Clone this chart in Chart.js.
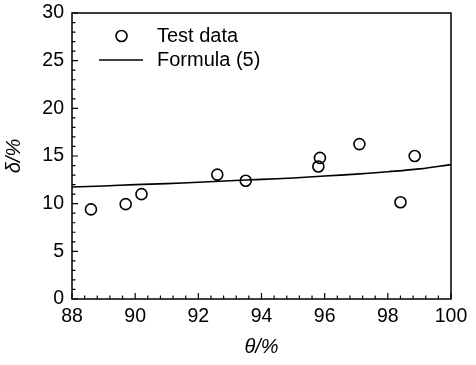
<!DOCTYPE html>
<html>
<head>
<meta charset="utf-8">
<script src="https://cdn.jsdelivr.net/npm/chart.js@4/dist/chart.umd.min.js"></script>
<style>
  html, body { margin: 0; padding: 0; background: #fff; }
  #wrap { width: 476px; height: 365px; }
</style>
</head>
<body>
<div id="wrap"><canvas id="myChart" width="476" height="365"></canvas></div>
<script>
// data
const testTheta = [88.6, 89.7, 90.2, 92.6, 93.5, 95.8, 95.85, 97.1, 98.4, 98.85];
const testDelta = [9.4, 9.95, 11.0, 13.05, 12.4, 13.9, 14.8, 16.25, 10.15, 15.0];

const formulaTheta = [88, 89, 90, 91, 92, 93, 94, 95, 96, 97, 98, 99, 100];
const formulaDelta = [11.75, 11.85, 12.0, 12.1, 12.25, 12.4, 12.55, 12.7, 12.9, 13.1, 13.35, 13.65, 14.1];

const xTicks = [88, 90, 92, 94, 96, 98, 100];
const yTicks = [0, 5, 10, 15, 20, 25, 30];

const FONT = '"Liberation Sans", Arial, sans-serif';

// frame, inward ticks (major + minor) and the inset legend
const framePlugin = {
  id: 'frame',
  afterDraw(chart) {
    const { ctx, chartArea: a, scales } = chart;
    const xs = scales.x, ys = scales.y;
    ctx.save();
    ctx.strokeStyle = '#000';
    ctx.lineWidth = 1.5;
    ctx.strokeRect(a.left, a.top, a.right - a.left, a.bottom - a.top);

    ctx.lineWidth = 1.2;
    ctx.beginPath();
    for (let v = 88; v <= 100.001; v += 0.4) {
      const px = xs.getPixelForValue(v);
      const major = Math.abs(v / 2 - Math.round(v / 2)) < 0.01;
      ctx.moveTo(px, a.bottom);
      ctx.lineTo(px, a.bottom - (major ? 6 : 3.5));
    }
    for (let v = 0; v <= 30; v += 1) {
      const py = ys.getPixelForValue(v);
      ctx.moveTo(a.left, py);
      ctx.lineTo(a.left + (v % 5 === 0 ? 6 : 3.5), py);
    }
    ctx.stroke();

    // legend
    const ds = chart.data.datasets;
    ctx.font = '20px ' + FONT;
    ctx.fillStyle = '#000';
    ctx.textBaseline = 'middle';
    ctx.lineWidth = 1.6;
    ctx.beginPath();
    ctx.arc(121.5, 36, 5.5, 0, Math.PI * 2);
    ctx.stroke();
    ctx.fillText(ds[0].label, 157, 36);
    ctx.beginPath();
    ctx.moveTo(99, 60);
    ctx.lineTo(143, 60);
    ctx.stroke();
    ctx.fillText(ds[1].label, 157, 60);
    ctx.restore();
  }
};

const ctx = document.getElementById('myChart').getContext('2d');

new Chart(ctx, {
  type: 'scatter',
  data: {
    datasets: [
      {
        label: 'Test data',
        data: testTheta.map((x, i) => ({ x, y: testDelta[i] })),
        pointRadius: 5.5,
        pointBorderWidth: 1.6,
        pointBorderColor: '#000',
        pointBackgroundColor: 'rgba(0,0,0,0)',
        showLine: false,
        order: 0
      },
      {
        label: 'Formula (5)',
        type: 'line',
        data: formulaTheta.map((x, i) => ({ x, y: formulaDelta[i] })),
        borderColor: '#000',
        borderWidth: 1.6,
        pointRadius: 0,
        tension: 0.4,
        fill: false,
        order: 1
      }
    ]
  },
  options: {
    responsive: false,
    animation: false,
    layout: { padding: { top: 13, right: 25, left: 0, bottom: 0 } },
    plugins: {
      legend: { display: false },
      tooltip: { enabled: false }
    },
    scales: {
      x: {
        type: 'linear',
        min: 88,
        max: 100,
        afterFit: s => { s.height = 66; s.paddingLeft = 0; s.paddingRight = 0; },
        afterBuildTicks: s => { s.ticks = xTicks.map(value => ({ value })); },
        grid: { display: false, drawTicks: false },
        border: { display: false },
        ticks: { color: '#000', padding: 6, maxRotation: 0, font: { family: FONT, size: 19.5 } },
        title: {
          display: true,
          text: 'θ/%',
          color: '#000',
          padding: { top: 0, bottom: 6 },
          font: { family: FONT, size: 20, style: 'italic' }
        }
      },
      y: {
        min: 0,
        max: 30,
        afterFit: s => { s.width = 72; s.paddingTop = 0; s.paddingBottom = 0; },
        afterBuildTicks: s => { s.ticks = yTicks.map(value => ({ value })); },
        grid: { display: false, drawTicks: false },
        border: { display: false },
        ticks: { color: '#000', padding: 8, font: { family: FONT, size: 19.5 } },
        title: {
          display: true,
          text: 'δ/%',
          color: '#000',
          padding: { top: 2, bottom: 0 },
          font: { family: FONT, size: 20, style: 'italic' }
        }
      }
    }
  },
  plugins: [framePlugin]
});
</script>
</body>
</html>
